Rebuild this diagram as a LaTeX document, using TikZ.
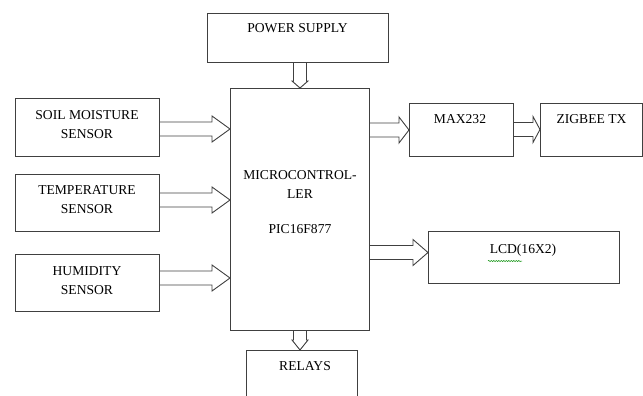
\documentclass[tikz,border=0pt]{standalone}
\usepackage{fontspec}
\setmainfont{Liberation Serif}
\usetikzlibrary{calc,decorations.pathmorphing}
\tikzset{
  box/.style={draw=black!75, line width=0.9pt, rectangle, inner sep=0pt, anchor=north west},
  lbl/.style={font=\fontsize{13.6}{19}\selectfont, inner sep=0pt, align=center, anchor=base},
  blk/.style={draw=black!75, line width=0.9pt, line join=miter},
}
% horizontal block arrow: from node, to node, centre y, head length
\newcommand{\rblock}[4]{%
  \draw[blk] let \p1=(#1.east), \p2=(#2.west), \p3=(0,#3) in
  (\x1,\y3+7pt) -- (\x2-#4,\y3+7pt) -- (\x2-#4,\y3+13pt) -- (\x2,\y3)
  -- (\x2-#4,\y3-13pt) -- (\x2-#4,\y3-7pt) -- (\x1,\y3-7pt);}
% vertical block arrow: from node, to node, centre x, head length
\newcommand{\dblock}[4]{%
  \draw[blk] let \p1=(#1.south), \p2=(#2.north), \p3=(#3,0) in
  (\x3-6.5pt,\y1) -- (\x3-6.5pt,\y2+#4) -- (\x3-8pt,\y2+#4) -- (\x3,\y2)
  -- (\x3+8pt,\y2+#4) -- (\x3+6.5pt,\y2+#4) -- (\x3+6.5pt,\y1);}
\begin{document}
\begin{tikzpicture}[x=1pt,y=-1pt]
\useasboundingbox (0,0) rectangle (643,396);
% boxes
\node[box, minimum width=181pt, minimum height=49pt] (pwr) at (207,13) {};
\node[box, minimum width=139pt, minimum height=242pt] (mcu) at (230,88) {};
\node[box, minimum width=144pt, minimum height=58pt] (soil) at (15,98) {};
\node[box, minimum width=144pt, minimum height=57pt] (temp) at (15,174) {};
\node[box, minimum width=144pt, minimum height=57pt] (hum) at (15,254) {};
\node[box, minimum width=111pt, minimum height=60pt] (relay) at (246,350) {};
\node[box, minimum width=104pt, minimum height=53pt] (max) at (409,103) {};
\node[box, minimum width=102pt, minimum height=53pt] (zig) at (540,103) {};
\node[box, minimum width=191pt, minimum height=52pt] (lcd) at (428,231) {};
% texts (anchor base = baseline of last line)
\node[lbl] (tpwr) at (297.5,33) {POWER SUPPLY};
\node[lbl] (tsoil) at (87,138) {SOIL MOISTURE\\SENSOR};
\node[lbl] (ttemp) at (87,213) {TEMPERATURE\\SENSOR};
\node[lbl] (thum) at (87,294) {HUMIDITY\\SENSOR};
\node[lbl] (tmcu) at (300,233) {MICROCONTROL-\\LER\\[16pt]PIC16F877};
\node[lbl] (trelay) at (305,370) {RELAYS};
\node[lbl] (tmax) at (460,123) {MAX232};
\node[lbl] (tzig) at (591.5,123) {ZIGBEE TX};
\node[lbl] (tlcd) at (523,253) {LCD(16X2)};
\draw[green!55!black, line width=0.5pt, decorate,
  decoration={snake, amplitude=0.6pt, segment length=2.5pt}] (488,261) -- (522,261);
% block arrows
\rblock{soil}{mcu}{129}{18pt}
\rblock{temp}{mcu}{200}{18pt}
\rblock{hum}{mcu}{278}{18pt}
\rblock{mcu}{max}{130}{10pt}
\rblock{max}{zig}{129.5}{7pt}
\rblock{mcu}{lcd}{252.5}{15pt}
\dblock{pwr}{mcu}{300}{7pt}
\dblock{mcu}{relay}{300}{10pt}
\end{tikzpicture}
\end{document}
